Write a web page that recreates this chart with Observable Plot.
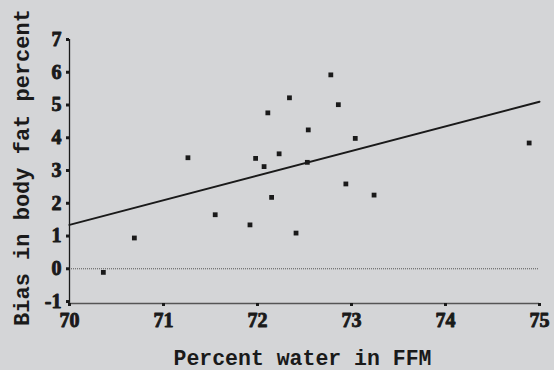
<!DOCTYPE html>
<html>
<head>
<meta charset="utf-8">
<script src="https://cdn.jsdelivr.net/npm/d3@7"></script>
<script src="https://cdn.jsdelivr.net/npm/@observablehq/plot@0.6"></script>
<style>
  html, body { margin: 0; padding: 0; background: #d4d5d7; }
  #chart svg { display: block; }
</style>
</head>
<body>
<div id="chart"></div>
<script>
// Data
const waterPct = [70.36, 70.69, 71.26, 71.55, 71.92, 71.98, 72.07, 72.11, 72.15, 72.23,
                  72.34, 72.41, 72.53, 72.54, 72.78, 72.86, 72.94, 73.04, 73.24, 74.89];
const biasPct  = [-0.11, 0.94, 3.39, 1.65, 1.34, 3.37, 3.12, 4.76, 2.18, 3.51,
                  5.22, 1.09, 3.25, 4.24, 5.92, 5.01, 2.59, 3.98, 2.25, 3.84];
// Fitted regression line (as drawn in the reference)
const fitX = [70, 75];
const fitY = [1.34, 5.10];
const xTicks = [70, 71, 72, 73, 74, 75];
const yTicks = [-1, 0, 1, 2, 3, 4, 5, 6, 7];

const points = waterPct.map((x, i) => ({x, y: biasPct[i]}));
const fit = fitX.map((x, i) => ({x, y: fitY[i]}));

const tickFont = "Liberation Serif, Times New Roman, serif";
const titleFont = "Liberation Mono, Courier New, monospace";

const chart = Plot.plot({
  width: 554,
  height: 370,
  marginLeft: 69,
  marginRight: 15,
  marginTop: 39,
  marginBottom: 67,
  style: {background: "#d4d5d7", color: "#1a1a1a", fontFamily: tickFont},
  x: {domain: [70, 75]},
  y: {domain: [-1.06, 7]},
  marks: [
    Plot.ruleY([0], {x1: 70, x2: 75, stroke: "#555", strokeWidth: 1, strokeDasharray: "1,1"}),
    Plot.ruleX([70], {y1: -1.06, y2: 7, stroke: "#1a1a1a", strokeWidth: 1.3}),
    Plot.ruleY([-1.06], {x1: 70, x2: 75, stroke: "#555", strokeWidth: 1.3}),
    Plot.axisY({ticks: yTicks, tickSize: 3, strokeWidth: 3, stroke: "#1a1a1a", tickPadding: 5,
      fontSize: 20, fontWeight: "bold", tickFormat: d => String(d), label: null}),
    Plot.axisX({ticks: xTicks, tickSize: 3, strokeWidth: 3, stroke: "#1a1a1a", tickPadding: 6,
      fontSize: 20, fontWeight: "bold", tickFormat: d => String(d), label: null}),
    Plot.line(fit, {x: "x", y: "y", stroke: "#1a1a1a", strokeWidth: 2}),
    Plot.dot(points, {x: "x", y: "y", symbol: "square", r: 2.7, fill: "#1a1a1a", stroke: "none"}),
    Plot.text(["Percent water in FFM"], {frameAnchor: "bottom", lineAnchor: "middle", dx: -2, dy: 55,
      fontFamily: titleFont, fontWeight: "bold", fontSize: 21.5, fill: "#1a1a1a"}),
    Plot.text(["Bias in body fat percent"], {frameAnchor: "left", textAnchor: "middle", lineAnchor: "middle",
      dx: -48, dy: -4, rotate: -90,
      fontFamily: titleFont, fontWeight: "bold", fontSize: 22, fill: "#1a1a1a"})
  ]
});
// Make the numeric tick labels heavy serif like the reference
d3.select(chart).selectAll("text")
  .filter(function () { return /^[-\u2212]?\d+$/.test(this.textContent.trim()); })
  .style("font-family", tickFont)
  .style("font-weight", "700")
  .style("font-size", "20px")
  .style("fill", "#1a1a1a")
  .style("stroke", "#1a1a1a")
  .style("stroke-width", "0.9px")
  .style("stroke-linejoin", "round")
  .style("paint-order", "stroke");
document.getElementById("chart").appendChild(chart);
</script>
</body>
</html>
